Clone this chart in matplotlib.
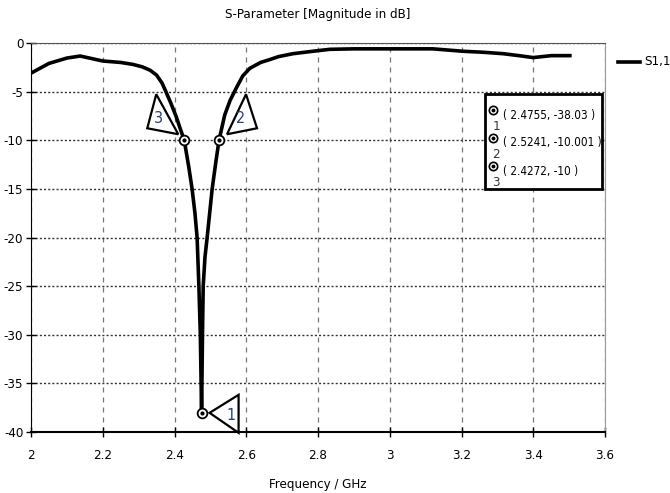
import matplotlib
matplotlib.use("Agg")
import matplotlib.pyplot as plt
import matplotlib.transforms as mtransforms
from matplotlib.patches import Polygon, Rectangle
from matplotlib.lines import Line2D

plt.rcParams['font.family'] = ['DejaVu Sans']
plt.rcParams['font.stretch'] = 'condensed'
plt.rcParams['axes.unicode_minus'] = False

# S1,1 curve
freq = [2.0, 2.05, 2.1, 2.137, 2.2, 2.25, 2.284, 2.31, 2.332, 2.35, 2.365, 2.376,
        2.39, 2.405, 2.415, 2.4272, 2.44, 2.449, 2.457, 2.463, 2.468, 2.472, 2.4755,
        2.478, 2.480, 2.485, 2.491, 2.505, 2.515, 2.5241, 2.54, 2.555, 2.574,
        2.59, 2.61, 2.64, 2.666, 2.69, 2.73, 2.797, 2.833, 2.9, 3.0, 3.12,
        3.204, 3.26, 3.316, 3.36, 3.40, 3.45, 3.502]
s11 = [-3.1, -2.1, -1.55, -1.34, -1.85, -2.0, -2.2, -2.45, -2.8, -3.3, -4.1, -5.0,
       -6.2, -7.6, -8.7, -10.0, -12.8, -15.0, -17.5, -20.0, -25.0, -30.0, -38.03,
       -30.0, -25.0, -22.0, -20.0, -15.0, -12.3, -10.0, -7.4, -5.9, -4.5,
       -3.4, -2.6, -2.0, -1.7, -1.4, -1.1, -0.8, -0.65, -0.6, -0.6, -0.6,
       -0.85, -0.95, -1.1, -1.3, -1.5, -1.3, -1.3]

# markers
mk_id = ['1', '2', '3']
mk_f = [2.4755, 2.5241, 2.4272]
mk_db = [-38.03, -10.0, -10.0]
mk_txt = ['( 2.4755, -38.03 )', '( 2.5241, -10.001 )', '( 2.4272, -10 )']

xticks = [2, 2.2, 2.4, 2.6, 2.8, 3, 3.2, 3.4, 3.6]
xticklabels = ['2', '2.2', '2.4', '2.6', '2.8', '3', '3.2', '3.4', '3.6']
yticks = [0, -5, -10, -15, -20, -25, -30, -35, -40]

W, H = 670, 493
fig = plt.figure(figsize=(W / 100, H / 100), dpi=100)
ax = fig.add_axes([31 / W, 1 - 432 / H, (605 - 31) / W, (432 - 43) / H])

def px(x, y):
    return x / W, 1 - y / H

FS = 9.5

ax.plot(freq, s11, color='black', lw=2.6, solid_joinstyle='round', zorder=3)
ax.set_xlim(2, 3.6)
ax.set_ylim(-40, 0)
ax.set_xticks(xticks)
ax.set_xticklabels(xticklabels)
ax.set_yticks(yticks)
ax.tick_params(direction='inout', length=7, width=1, labelsize=FS, colors='black')
ax.tick_params(axis='x', pad=9)
ax.tick_params(axis='y', pad=2)
ax.xaxis.grid(True, linestyle=(0, (4, 4)), color='#777777', lw=0.9)
ax.yaxis.grid(True, linestyle=(0, (1.5, 1.5)), color='#333333', lw=1.0)
ax.spines['left'].set_color('black')
ax.spines['bottom'].set_color('black')
ax.spines['bottom'].set_linewidth(1.5)
ax.spines['top'].set_color('#555555')
ax.spines['right'].set_color('#999999')

ax.set_title('S-Parameter [Magnitude in dB]', fontsize=FS, pad=18)
ax.set_xlabel('Frequency / GHz', fontsize=FS, labelpad=11)

# marker triangles (pixel offsets from each marker point)
tri = {
    '1': ([(8, 0), (37, 18), (37, -20)], (29, -3)),
    '2': ([(27, 46), (38, 12), (8, 6)], (22, 22)),
    '3': ([(-28, 46), (-37, 12), (-6, 6)], (-26, 22)),
}
for k, f, d in zip(mk_id, mk_f, mk_db):
    verts, lab = tri[k]
    trans = mtransforms.Affine2D().scale(fig.dpi / 100.0) + \
        mtransforms.ScaledTranslation(f, d, ax.transData)
    ax.add_patch(Polygon(verts, closed=True, facecolor='white', edgecolor='black',
                         lw=1.6, transform=trans, zorder=5, clip_on=False))
    ax.annotate(k, (f, d), xytext=lab, textcoords='offset pixels', ha='center',
                va='center', fontsize=11.5, color='#2a3f7a', zorder=6,
                annotation_clip=False)
    ax.plot(f, d, 'o', ms=7, mfc='white', mec='black', mew=1.3, zorder=6, clip_on=False)
    ax.plot(f, d, 'o', ms=2, color='black', zorder=7, clip_on=False)

# marker value box
x0, y0, x1, y1 = px(485, 189) + px(602, 94)
fig.patches.append(Rectangle((x0, y0), x1 - x0, y1 - y0, transform=fig.transFigure,
                             facecolor='white', edgecolor='black', lw=2.0, zorder=10))
rows = [115, 143, 171]
for k, txt, ry in zip(mk_id, mk_txt, rows):
    mx, my = px(493, ry - 5)
    fig.add_artist(Line2D([mx], [my], marker='o', ms=6, mfc='white', mec='black',
                          mew=1.2, transform=fig.transFigure, zorder=11))
    fig.add_artist(Line2D([mx], [my], marker='o', ms=1.8, color='black',
                          transform=fig.transFigure, zorder=12))
    dx, dy = px(496, ry + 11)
    fig.text(dx, dy, k, fontsize=9.5, color='#3a3030', ha='center', va='center', zorder=12)
    tx, ty = px(503, ry)
    fig.text(tx, ty, txt, fontsize=8.4, ha='left', va='center', zorder=12)

# legend outside the axes
lx0, ly = px(618, 62)
lx1, _ = px(640, 62)
fig.add_artist(Line2D([lx0, lx1], [ly, ly], color='black', lw=2.6,
                      transform=fig.transFigure))
tx, ty = px(644, 62)
fig.text(tx, ty, 'S1,1', fontsize=FS, ha='left', va='center')

fig.savefig('out.png', dpi=100)
